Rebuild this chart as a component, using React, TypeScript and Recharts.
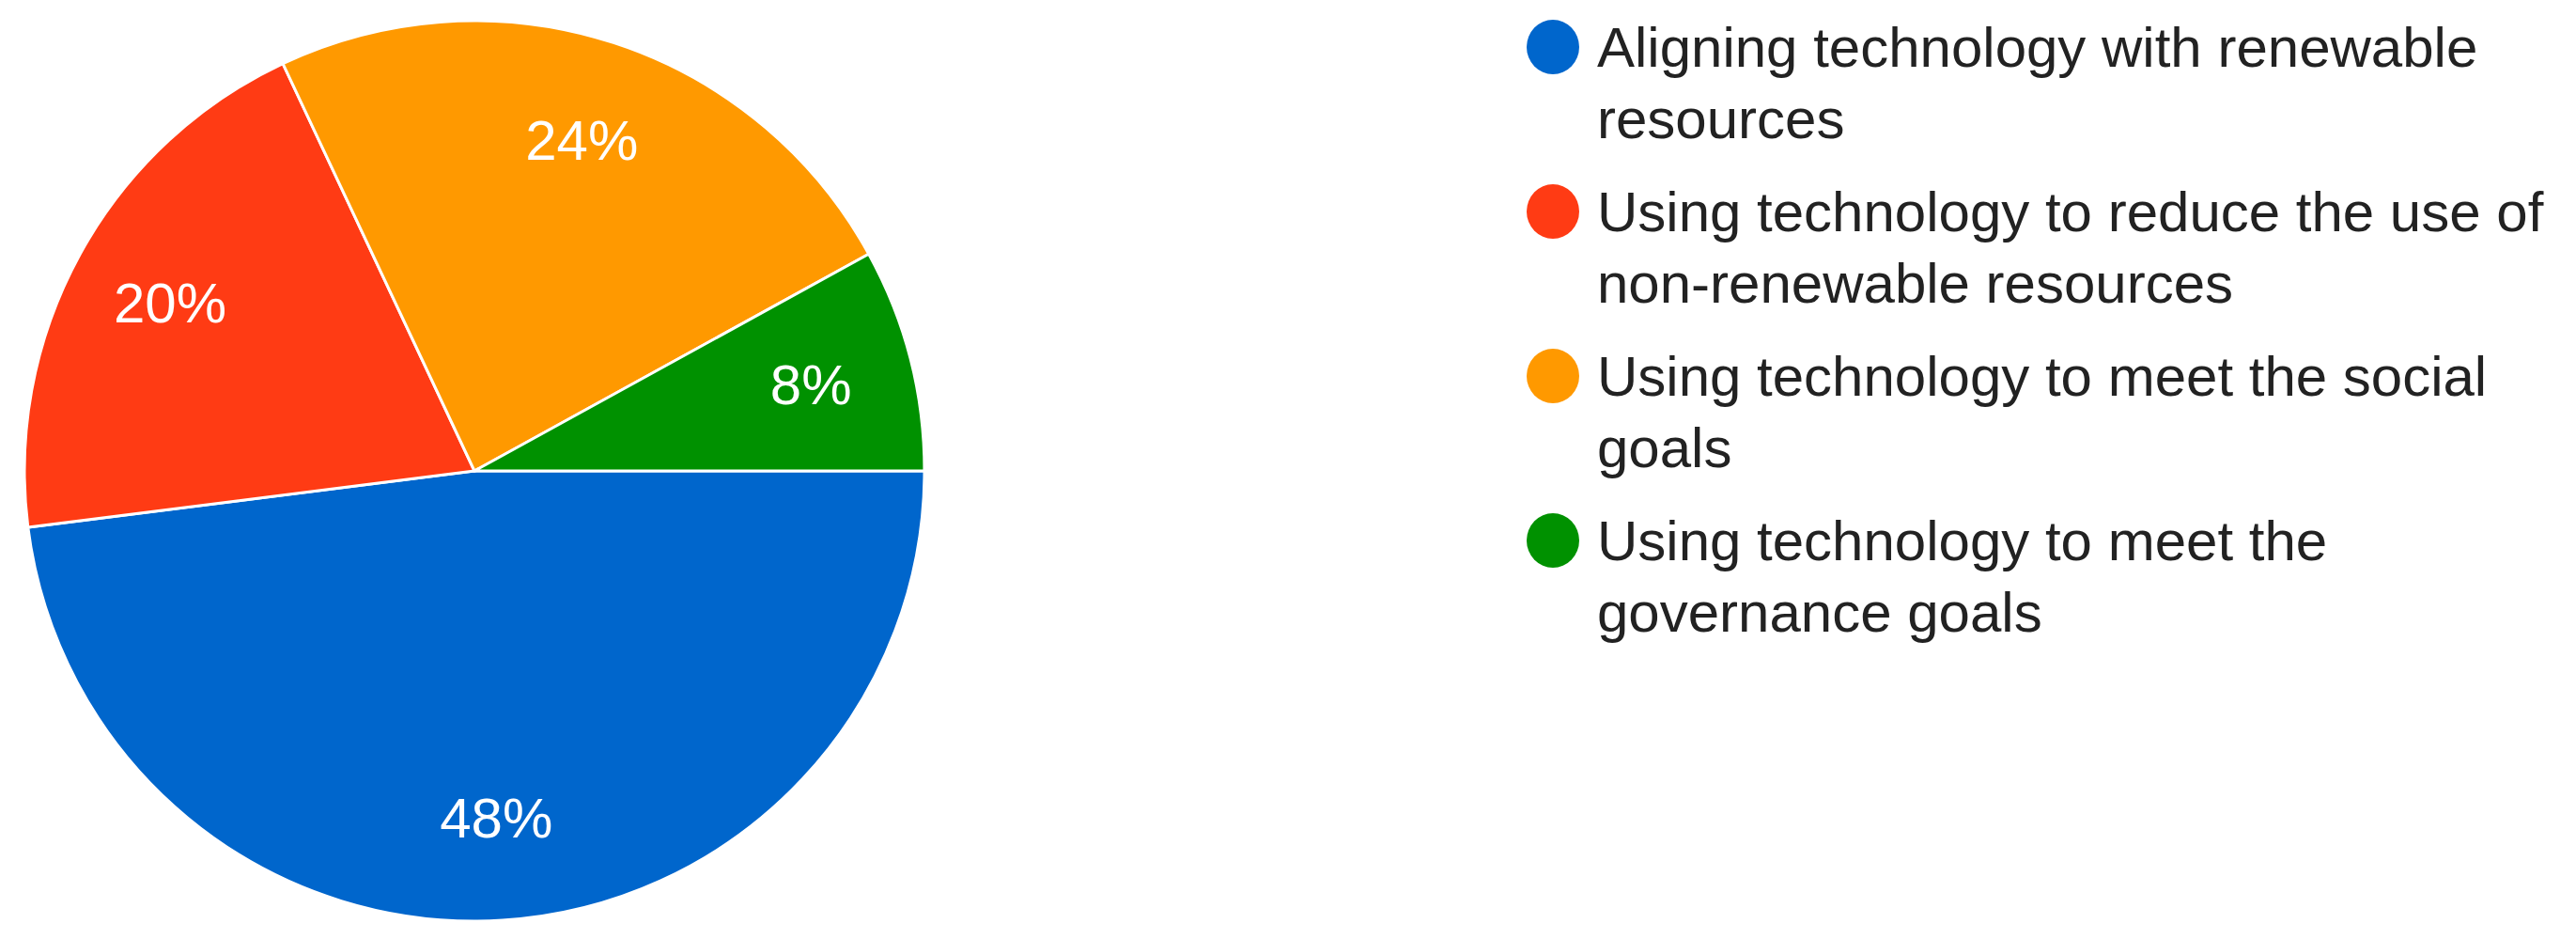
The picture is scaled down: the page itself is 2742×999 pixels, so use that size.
import { PieChart, Pie, Cell, Legend } from 'recharts';

const categories = [
  'Aligning technology with renewable resources',
  'Using technology to reduce the use of non-renewable resources',
  'Using technology to meet the social goals',
  'Using technology to meet the governance goals',
];
const shares = [48, 20, 24, 8];
const colors = ['#0066CC', '#FF3B14', '#FF9900', '#009100'];

const data = categories.map((name, i) => ({ name, value: shares[i] }));

const RADIAN = Math.PI / 180;

function renderLabel(props: any) {
  const { cx, cy, midAngle, outerRadius, value } = props;
  const r = outerRadius * 0.772;
  const x = cx + r * Math.cos(-midAngle * RADIAN);
  const y = cy + r * Math.sin(-midAngle * RADIAN);
  return (
    <text
      x={x}
      y={y}
      fill="#ffffff"
      textAnchor="middle"
      dominantBaseline="central"
      fontSize={60}
      fontFamily="'Liberation Sans', Arial, sans-serif"
    >
      {`${value}%`}
    </text>
  );
}

// keep the legend in data order (recharts sorts payload otherwise)
function renderLegend() {
  return (
    <div style={{ fontFamily: "'Liberation Sans', Arial, sans-serif" }}>
      {categories.map((name, i) => (
        <div
          key={name}
          style={{ display: 'flex', alignItems: 'flex-start', marginBottom: 23 }}
        >
          <span
            style={{
              width: 56,
              height: 58,
              borderRadius: '50%',
              background: colors[i],
              marginTop: 8,
              marginRight: 19,
              flex: 'none',
            }}
          />
          <span
            style={{
              width: 1030,
              fontSize: 60,
              lineHeight: '76px',
              color: '#222222',
            }}
          >
            {name}
          </span>
        </div>
      ))}
    </div>
  );
}

export default function App() {
  return (
    <div style={{ position: 'absolute', left: 0, top: 0, width: 2742, height: 999, background: '#ffffff' }}>
      <PieChart width={2742} height={999} margin={{ top: 0, right: 0, bottom: 0, left: 0 }}>
        <Pie
          data={data}
          dataKey="value"
          nameKey="name"
          cx={505}
          cy={501}
          outerRadius={479}
          startAngle={0}
          endAngle={-360}
          stroke="#ffffff"
          strokeWidth={3}
          label={renderLabel}
          labelLine={false}
          isAnimationActive={false}
        >
          {data.map((d, i) => (
            <Cell key={d.name} fill={colors[i]} />
          ))}
        </Pie>
        <Legend
          layout="vertical"
          content={renderLegend}
          wrapperStyle={{ position: 'absolute', left: 1625, top: 13, width: 1110 }}
        />
      </PieChart>
    </div>
  );
}
